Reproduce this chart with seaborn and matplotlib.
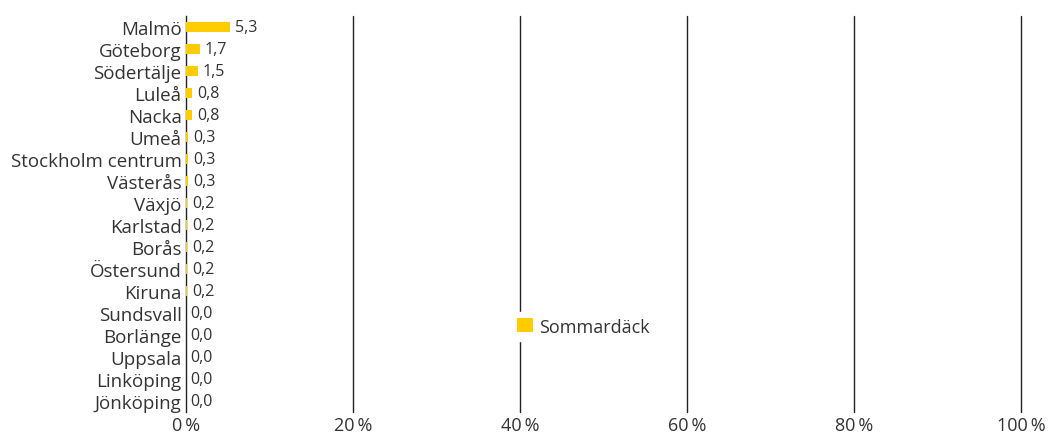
import pandas as pd
import matplotlib
matplotlib.use("Agg")
import matplotlib.pyplot as plt
import seaborn as sns

# Data
cities = ["Malmö", "Göteborg", "Södertälje", "Luleå", "Nacka", "Umeå",
          "Stockholm centrum", "Västerås", "Växjö", "Karlstad", "Borås",
          "Östersund", "Kiruna", "Sundsvall", "Borlänge", "Uppsala",
          "Linköping", "Jönköping"]
values = [5.3, 1.7, 1.5, 0.8, 0.8, 0.3, 0.3, 0.3, 0.2, 0.2, 0.2,
          0.2, 0.2, 0.0, 0.0, 0.0, 0.0, 0.0]
series_name = "Sommardäck"
xticks = [0, 20, 40, 60, 80, 100]

df = pd.DataFrame({"stad": cities, "andel": values, "typ": series_name})

sns.set_style("white")
plt.rcParams["font.family"] = ["Open Sans", "DejaVu Sans"]
text_color = "#333333"
bar_color = "#FFCC00"

fig = plt.figure(figsize=(10.55, 4.39), dpi=100)
ax = fig.add_axes([0.176, 0.06, 0.792, 0.902])

sns.barplot(data=df, y="stad", x="andel", hue="typ", palette=[bar_color],
            saturation=1, width=0.45, linewidth=0, ax=ax, orient="h")

for i, v in enumerate(values):
    ax.text(v + 0.55, i, f"{v:.1f}".replace(".", ","), va="center", ha="left",
            fontsize=11.5, color=text_color)

ax.set_xlim(0, 100)
ax.set_ylim(len(cities) - 0.5, -0.5)
ax.set_xticks(xticks)
ax.set_xticklabels([f"{t}\u2009%" for t in xticks], fontsize=13, color=text_color)
ax.tick_params(axis="y", labelsize=13.5, labelcolor=text_color, length=0, pad=3)
ax.tick_params(axis="x", length=0, pad=3)
ax.set_xlabel("")
ax.set_ylabel("")

for t in xticks[1:]:
    ax.axvline(t, color="#222222", linewidth=1, zorder=0, clip_on=False)
for s in ["top", "right", "bottom"]:
    ax.spines[s].set_visible(False)
ax.spines["left"].set_color("#222222")
ax.spines["left"].set_linewidth(1)
ax.spines["left"].set_zorder(0.5)

leg = ax.legend(loc="center", bbox_to_anchor=(0.476, 0.215), frameon=True,
                fontsize=13, handlelength=0.85, handleheight=0.85,
                handletextpad=0.35, borderpad=0.3)
leg.get_frame().set_facecolor("white")
leg.get_frame().set_edgecolor("white")
leg.get_frame().set_alpha(1)
for txt in leg.get_texts():
    txt.set_color(text_color)

fig.savefig("out.png", dpi=100)
